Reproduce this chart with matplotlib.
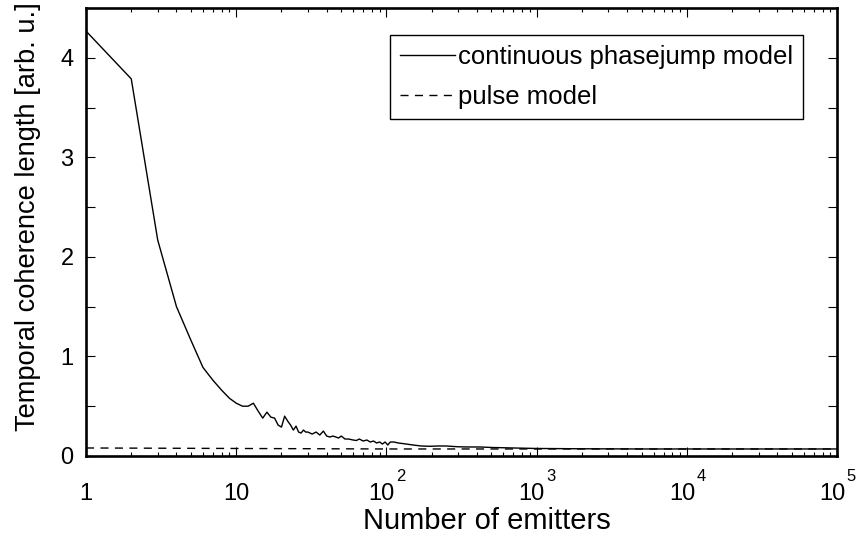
import numpy as np
import matplotlib.pyplot as plt
from matplotlib.ticker import FixedLocator, NullFormatter, LogLocator
from matplotlib.transforms import ScaledTranslation

plt.rcParams['font.family'] = ['Liberation Sans', 'DejaVu Sans']

# continuous phasejump model
n_cont = [1, 2, 3, 4, 5, 6, 7, 8, 9, 10, 11, 12, 13, 14, 15, 16, 17, 18, 19, 20,
          21, 22, 23, 24, 25, 26, 27, 28, 29, 30, 32, 34, 36, 38, 40, 42, 44, 46,
          48, 50, 53, 56, 60, 63, 66, 70, 74, 78, 82, 86, 90, 94, 98, 102, 106,
          112, 120, 135, 150, 170, 195, 220, 250, 300, 350, 420, 500, 700, 1000,
          2000, 5000, 10000, 100000]
y_cont = [4.27, 3.79, 2.17, 1.50, 1.16, 0.89, 0.76, 0.66, 0.58, 0.53, 0.50, 0.50,
          0.53, 0.45, 0.38, 0.44, 0.39, 0.38, 0.31, 0.29, 0.40, 0.35, 0.31, 0.26,
          0.30, 0.24, 0.23, 0.26, 0.24, 0.24, 0.22, 0.24, 0.21, 0.25, 0.20, 0.19,
          0.20, 0.19, 0.18, 0.20, 0.17, 0.17, 0.16, 0.155, 0.17, 0.15, 0.16, 0.14,
          0.15, 0.13, 0.14, 0.12, 0.14, 0.11, 0.14, 0.14, 0.13, 0.12, 0.11, 0.10,
          0.097, 0.10, 0.10, 0.092, 0.09, 0.09, 0.085, 0.08, 0.075, 0.072, 0.07,
          0.07, 0.07]

# pulse model
n_pulse = [1, 10, 100, 1000, 10000, 100000]
y_pulse = [0.08, 0.075, 0.07, 0.07, 0.07, 0.07]

xticks = [1, 10, 100, 1000, 10000, 100000]
xtick_base = ['1', '10', '10', '10', '10', '10']
xtick_exp = ['', '', '2', '3', '4', '5']
yticks = [0, 1, 2, 3, 4]

fig = plt.figure(figsize=(8.63, 5.48), dpi=100)
ax = fig.add_axes([0.0997, 0.168, 0.8703, 0.817])

ax.plot(n_cont, y_cont, color='black', lw=1.0, label='continuous phasejump model')
ax.plot(n_pulse, y_pulse, color='black', lw=1.0, ls=(0, (5.8, 4.6)), label='pulse model')

ax.set_xscale('log')
ax.set_xlim(1, 1e5)
ax.set_ylim(0, 4.5)
ax.set_xticks(xticks)
ax.set_xticklabels(xtick_base)
ax.xaxis.set_minor_locator(LogLocator(base=10, subs=np.arange(2, 10)))
ax.xaxis.set_minor_formatter(NullFormatter())
ax.set_yticks(yticks)
ax.yaxis.set_minor_locator(FixedLocator([0.5, 1.5, 2.5, 3.5]))

ax.tick_params(which='both', direction='in', top=True, right=True, labelsize=17,
               width=0.8, color='black')
ax.tick_params(which='major', length=6.5)
ax.tick_params(axis='x', which='minor', length=3)
ax.tick_params(axis='y', which='minor', length=6.5)
ax.tick_params(axis='x', which='major', pad=32)
ax.tick_params(axis='y', which='major', pad=9)

# MATLAB-style 10^n labels: base on the tick, exponent raised beside it
shift = ScaledTranslation(-5 / 100, 0, fig.dpi_scale_trans)
for lab, e in zip(ax.get_xticklabels(), xtick_exp):
    lab.set_va('baseline')
    if e:
        lab.set_transform(lab.get_transform() + shift)
for x, e in zip(xticks, xtick_exp):
    if e:
        ax.annotate(e, xy=(x, 0), xycoords=('data', 'axes fraction'),
                    xytext=(6.8, -18.3), textcoords='offset points',
                    ha='left', va='baseline', fontsize=12)

for s in ax.spines.values():
    s.set_linewidth(1.9)

ax.set_xlabel('Number of emitters', fontsize=21, labelpad=1)
ax.xaxis.label.set_x(0.534)
ax.set_ylabel('Temporal coherence length [arb. u.]', fontsize=19.6, labelpad=14)
ax.yaxis.label.set_y(0.535)

leg = ax.legend(loc='upper right', bbox_to_anchor=(0.955, 0.94), fontsize=18.5,
                handlelength=2.15, handletextpad=0.1, labelspacing=0.6,
                borderaxespad=0, fancybox=False, framealpha=1, borderpad=0.4)
leg.get_frame().set_edgecolor('black')
leg.get_frame().set_linewidth(1.0)

fig.savefig('out.png', dpi=100)
